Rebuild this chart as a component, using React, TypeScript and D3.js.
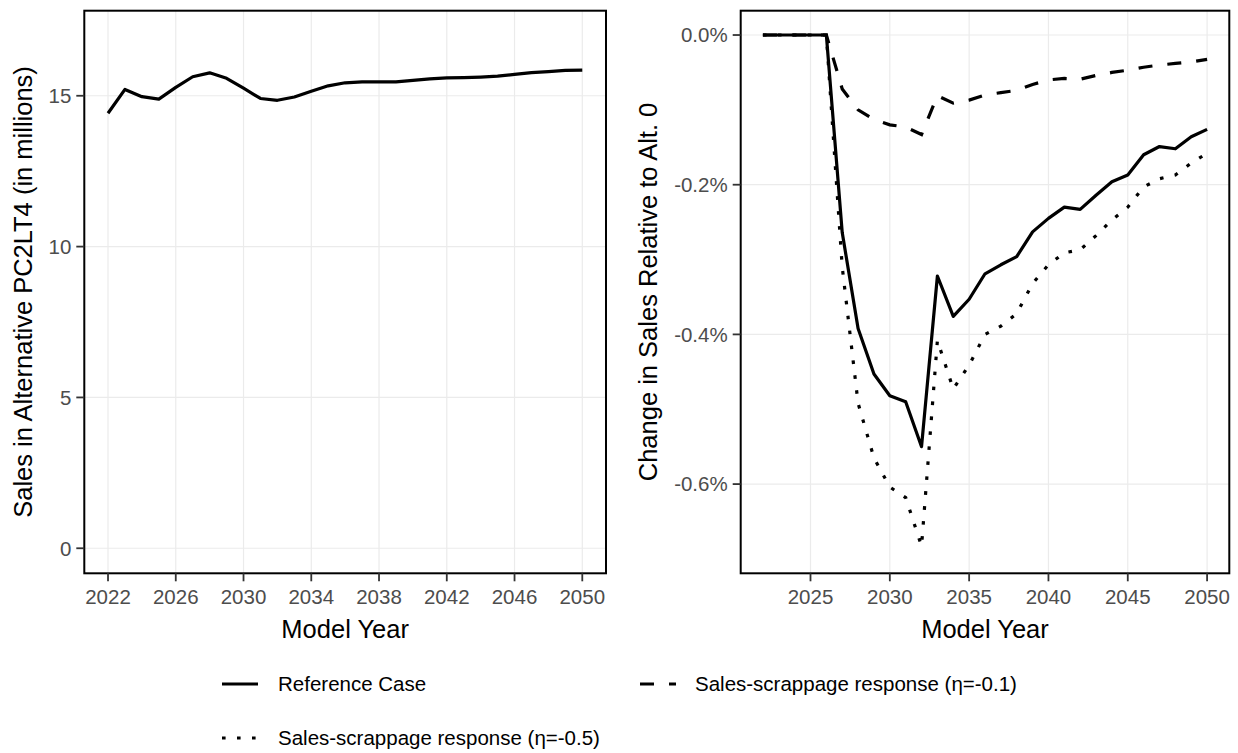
import React from "react";
import * as d3 from "d3";

const years = [2022, 2023, 2024, 2025, 2026, 2027, 2028, 2029, 2030, 2031, 2032, 2033, 2034, 2035, 2036, 2037, 2038, 2039, 2040, 2041, 2042, 2043, 2044, 2045, 2046, 2047, 2048, 2049, 2050];

// Left panel: sales (millions), Reference Case
const salesRef = [14.42, 15.21, 14.97, 14.89, 15.28, 15.63, 15.76, 15.58, 15.25, 14.91, 14.85, 14.96, 15.15, 15.33, 15.43, 15.46, 15.46, 15.46, 15.51, 15.56, 15.59, 15.6, 15.62, 15.65, 15.71, 15.77, 15.8, 15.84, 15.85];

// Right panel: change in sales relative to Alt. 0 (%)
const chgRef = [0, 0, 0, 0, 0, -0.264, -0.392, -0.453, -0.482, -0.49, -0.55, -0.322, -0.376, -0.353, -0.319, -0.307, -0.296, -0.263, -0.245, -0.23, -0.233, -0.214, -0.196, -0.187, -0.16, -0.149, -0.152, -0.136, -0.126];
const chgEta01 = [0, 0, 0, 0, 0, -0.072, -0.1, -0.113, -0.12, -0.123, -0.133, -0.081, -0.091, -0.087, -0.08, -0.077, -0.074, -0.066, -0.06, -0.058, -0.059, -0.054, -0.05, -0.047, -0.043, -0.04, -0.038, -0.036, -0.0325];
const chgEta05 = [0, 0, 0, 0, 0, -0.31, -0.492, -0.565, -0.604, -0.618, -0.683, -0.408, -0.473, -0.441, -0.4, -0.389, -0.372, -0.332, -0.307, -0.291, -0.287, -0.268, -0.247, -0.23, -0.203, -0.192, -0.187, -0.171, -0.158];

const leftXTicks = [2022, 2026, 2030, 2034, 2038, 2042, 2046, 2050];
const leftYTicks = [0, 5, 10, 15];
const rightXTicks = [2025, 2030, 2035, 2040, 2045, 2050];
const rightYTicks = [0, -0.2, -0.4, -0.6];

const seriesNames = ["Reference Case", "Sales-scrappage response (\u03b7=-0.1)", "Sales-scrappage response (\u03b7=-0.5)"];

const FONT = "'Liberation Sans', Arial, Helvetica, sans-serif";
const LW = 3.2;
const DASH = "14,15";
const DOT = "3.6,11.4";

export default function App() {
  const L = { x0: 84.3, x1: 606, y0: 10.7, y1: 573.3 };
  const R = { x0: 740.7, x1: 1229.3, y0: 10.7, y1: 573.3 };

  const xL = d3.scaleLinear().domain([2020.6, 2051.4]).range([L.x0, L.x1]);
  const yL = d3.scaleLinear().domain([-0.83, 17.82]).range([L.y1, L.y0]);
  const xR = d3.scaleLinear().domain([2020.6, 2051.4]).range([R.x0, R.x1]);
  const yR = d3.scaleLinear().domain([-0.7192, 0.0325]).range([R.y1, R.y0]);

  const lineL = d3.line<number>().x((_, i) => xL(years[i])).y((d) => yL(d));
  const lineR = d3.line<number>().x((_, i) => xR(years[i])).y((d) => yR(d));

  const grid = "#EBEBEB";
  const tickCol = "#333333";
  const labCol = "#4D4D4D";

  return (
    <svg width={1238} height={753} style={{ position: "absolute", left: 0, top: 0, background: "#fff" }} fontFamily={FONT}>
      <rect x={0} y={0} width={1238} height={753} fill="#fff" />
      {/* LEFT PANEL */}
      <g>
        {leftXTicks.map((t) => (
          <line key={"lgx" + t} x1={xL(t)} x2={xL(t)} y1={L.y0} y2={L.y1} stroke={grid} strokeWidth={1.2} />
        ))}
        {leftYTicks.map((t) => (
          <line key={"lgy" + t} x1={L.x0} x2={L.x1} y1={yL(t)} y2={yL(t)} stroke={grid} strokeWidth={1.2} />
        ))}
        <path d={lineL(salesRef) || ""} fill="none" stroke="#000" strokeWidth={LW} strokeLinejoin="round" />
        <rect x={L.x0} y={L.y0} width={L.x1 - L.x0} height={L.y1 - L.y0} fill="none" stroke="#000" strokeWidth={2} />
        {leftXTicks.map((t) => (
          <g key={"lxt" + t}>
            <line x1={xL(t)} x2={xL(t)} y1={L.y1} y2={L.y1 + 8} stroke={tickCol} strokeWidth={1.8} />
            <text x={xL(t)} y={L.y1 + 31} textAnchor="middle" fontSize={20.5} fill={labCol}>{t}</text>
          </g>
        ))}
        {leftYTicks.map((t) => (
          <g key={"lyt" + t}>
            <line x1={L.x0 - 8} x2={L.x0} y1={yL(t)} y2={yL(t)} stroke={tickCol} strokeWidth={1.8} />
            <text x={L.x0 - 13} y={yL(t)} dy="0.36em" textAnchor="end" fontSize={20.5} fill={labCol}>{t}</text>
          </g>
        ))}
        <text x={(L.x0 + L.x1) / 2} y={638} textAnchor="middle" fontSize={25.5} fill="#000">Model Year</text>
        <text transform={`translate(32,${(L.y0 + L.y1) / 2}) rotate(-90)`} textAnchor="middle" fontSize={25.5} fill="#000">
          Sales in Alternative PC2LT4 (in millions)
        </text>
      </g>

      {/* RIGHT PANEL */}
      <g>
        {rightXTicks.map((t) => (
          <line key={"rgx" + t} x1={xR(t)} x2={xR(t)} y1={R.y0} y2={R.y1} stroke={grid} strokeWidth={1.2} />
        ))}
        {rightYTicks.map((t) => (
          <line key={"rgy" + t} x1={R.x0} x2={R.x1} y1={yR(t)} y2={yR(t)} stroke={grid} strokeWidth={1.2} />
        ))}
        <path d={lineR(chgRef) || ""} fill="none" stroke="#000" strokeWidth={LW} strokeLinejoin="round" />
        <path d={lineR(chgEta01) || ""} fill="none" stroke="#000" strokeWidth={LW} strokeDasharray={DASH} />
        <path d={lineR(chgEta05) || ""} fill="none" stroke="#000" strokeWidth={LW} strokeDasharray={DOT} />
        <rect x={R.x0} y={R.y0} width={R.x1 - R.x0} height={R.y1 - R.y0} fill="none" stroke="#000" strokeWidth={2} />
        {rightXTicks.map((t) => (
          <g key={"rxt" + t}>
            <line x1={xR(t)} x2={xR(t)} y1={R.y1} y2={R.y1 + 8} stroke={tickCol} strokeWidth={1.8} />
            <text x={xR(t)} y={R.y1 + 31} textAnchor="middle" fontSize={20.5} fill={labCol}>{t}</text>
          </g>
        ))}
        {rightYTicks.map((t) => (
          <g key={"ryt" + t}>
            <line x1={R.x0 - 8} x2={R.x0} y1={yR(t)} y2={yR(t)} stroke={tickCol} strokeWidth={1.8} />
            <text x={R.x0 - 13} y={yR(t)} dy="0.36em" textAnchor="end" fontSize={20.5} fill={labCol}>{t.toFixed(1) + "%"}</text>
          </g>
        ))}
        <text x={(R.x0 + R.x1) / 2} y={638} textAnchor="middle" fontSize={25.5} fill="#000">Model Year</text>
        <text transform={`translate(657,${(R.y0 + R.y1) / 2}) rotate(-90)`} textAnchor="middle" fontSize={25.5} fill="#000">
          Change in Sales Relative to Alt. 0
        </text>
      </g>

      {/* LEGEND */}
      <g>
        <line x1={222} x2={258} y1={684} y2={684} stroke="#000" strokeWidth={LW} />
        <text x={278} y={684} dy="0.36em" fontSize={20.5} fill="#000">{seriesNames[0]}</text>
        <line x1={640} x2={676} y1={684} y2={684} stroke="#000" strokeWidth={LW} strokeDasharray={DASH} />
        <text x={695} y={684} dy="0.36em" fontSize={20.5} fill="#000">{seriesNames[1]}</text>
        <line x1={222} x2={258} y1={738} y2={738} stroke="#000" strokeWidth={LW} strokeDasharray={DOT} />
        <text x={278} y={738} dy="0.36em" fontSize={20.5} fill="#000">{seriesNames[2]}</text>
      </g>
    </svg>
  );
}
